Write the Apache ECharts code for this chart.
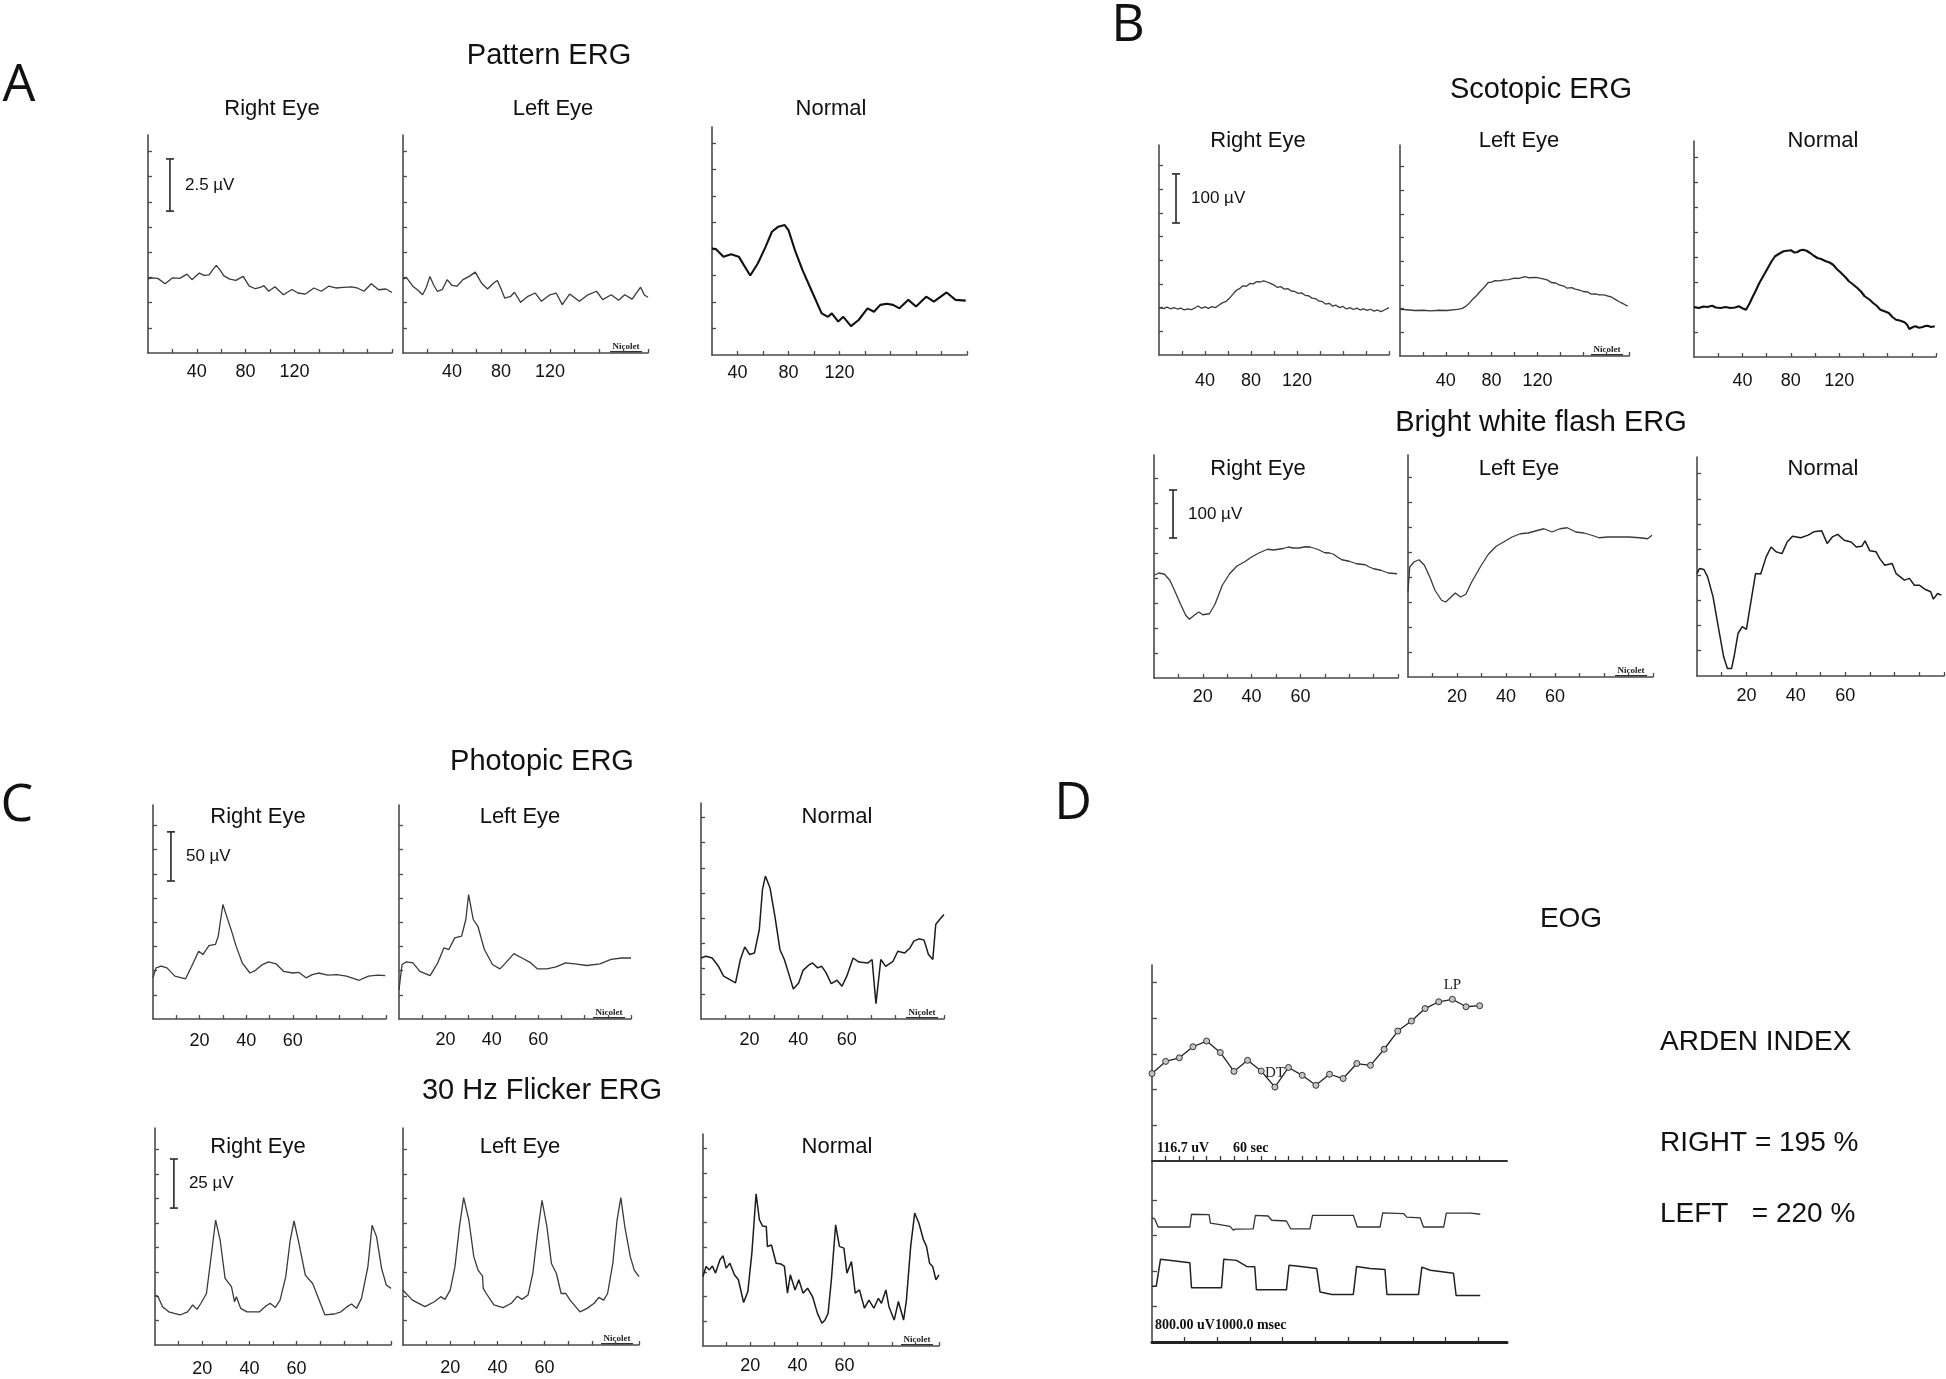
<!DOCTYPE html>
<html><head><meta charset="utf-8">
<script src="https://cdn.jsdelivr.net/npm/echarts@6/dist/echarts.min.js"></script>
<style>html,body{margin:0;padding:0;background:#fff}#chart{width:1946px;height:1379px}</style>
</head><body><div id="chart"></div>
<script>
// ---------- tick labels (ms) ----------
const patternTickLabels = [40, 80, 120];
const flashTickLabels = [20, 40, 60];
const patternTimeTicks = [20, 40, 60, 80, 100, 120, 140, 160, 180, 200];
const patternNormalTimeTicks = [40, 60, 80, 100, 120, 140, 160, 180, 200, 220];
const flashTimeTicks = [10, 20, 30, 40, 50, 60, 70, 80, 90, 100];
const amplitudeDivTicks = [1, 2, 3, 4, 5, 6, 7, 8];

// ---------- traces: [time ms, amplitude in vertical divisions] ----------
const patternRightEye = [[0,2.94],[4,2.98],[8,2.96],[14,2.75],[20,2.98],[26,2.96],[32,3.13],[36,2.91],[42,3.17],[46,3.08],[50,3.1],[53,3.3],[56,3.48],[59,3.3],[62,3.07],[67,2.93],[72,2.88],[78,3.04],[83,2.65],[88,2.55],[92,2.6],[95,2.67],[99,2.45],[104,2.63],[111,2.31],[118,2.52],[123,2.38],[129,2.34],[136,2.58],[142,2.45],[148,2.65],[154,2.58],[160,2.6],[167,2.62],[172,2.57],[177,2.45],[183,2.75],[189,2.51],[195,2.54],[200,2.4]];
const patternLeftEye = [[0,2.94],[3,2.98],[8,2.65],[12,2.5],[16,2.31],[19,2.6],[22,3.04],[25,2.7],[28,2.45],[32,2.51],[36,2.91],[40,2.68],[44,2.65],[49,2.91],[54,3.04],[59,3.21],[64,2.78],[69,2.54],[74,2.78],[77,2.88],[80,2.55],[83,2.18],[88,2.25],[91,2.41],[96,2.01],[102,2.25],[108,2.38],[113,2.05],[120,2.31],[125,2.38],[130,1.92],[136,2.34],[144,2.05],[151,2.31],[158,2.45],[163,2.12],[170,2.31],[176,2.09],[181,2.31],[187,2.14],[194,2.61],[197,2.3],[200,2.21]];
const patternNormal = [[20,4.02],[23,4.0],[29,3.71],[35,3.8],[41,3.71],[45,3.39],[50,3.0],[56,3.46],[62,4.08],[67,4.65],[72,4.84],[77,4.9],[80,4.71],[85,3.96],[91,3.2],[99,2.33],[106,1.57],[111,1.44],[114,1.57],[119,1.26],[123,1.44],[129,1.09],[135,1.32],[142,1.76],[147,1.63],[152,1.89],[157,1.93],[162,1.89],[167,1.76],[174,2.08],[180,1.83],[188,2.2],[194,2.01],[204,2.36],[211,2.08],[219,2.05]];

const scotopicRightEye = [[0,2.0],[4,1.96],[7,2.02],[10,1.95],[13,2.0],[16,1.94],[19,1.98],[22,1.9],[25,1.95],[28,1.91],[31,1.98],[34,2.07],[37,1.97],[40,2.03],[43,1.97],[46,2.04],[49,2.0],[52,2.1],[55,2.2],[58,2.25],[61,2.38],[64,2.55],[67,2.72],[70,2.8],[73,2.92],[76,2.9],[79,3.02],[82,3.0],[85,3.1],[88,3.08],[91,3.13],[94,3.08],[97,3.02],[100,2.95],[103,2.85],[106,2.88],[109,2.78],[112,2.8],[115,2.7],[118,2.68],[121,2.6],[124,2.62],[127,2.52],[130,2.5],[133,2.4],[136,2.38],[139,2.28],[142,2.25],[145,2.15],[148,2.18],[151,2.06],[154,2.1],[157,2.0],[160,2.05],[163,1.94],[166,2.0],[169,1.92],[172,1.98],[175,1.9],[178,1.95],[181,1.88],[184,1.93],[187,1.85],[190,1.9],[193,1.83],[196,1.9],[200,2.0]];
const scotopicLeftEye = [[0,1.97],[6,1.95],[13,1.92],[20,1.93],[27,1.9],[34,1.93],[41,1.92],[50,1.97],[54,2.0],[57,2.08],[60,2.2],[63,2.37],[67,2.55],[70,2.72],[74,2.92],[77,3.1],[80,3.12],[83,3.18],[87,3.17],[91,3.21],[95,3.22],[100,3.28],[104,3.27],[109,3.35],[113,3.3],[119,3.32],[122,3.28],[126,3.24],[129,3.2],[132,3.1],[136,3.08],[139,3.0],[143,2.95],[146,2.86],[150,2.88],[153,2.82],[157,2.78],[160,2.72],[164,2.7],[167,2.61],[171,2.62],[174,2.58],[178,2.58],[181,2.54],[185,2.48],[188,2.39],[191,2.3],[194,2.23],[197,2.15],[199,2.11]];
const scotopicNormal = [[0,2.0],[4,1.96],[8,2.02],[11,2.0],[15,2.05],[18,1.98],[22,1.96],[26,2.0],[30,1.96],[34,1.98],[37,2.03],[40,1.95],[43,1.89],[46,2.15],[48,2.36],[51,2.65],[54,2.96],[58,3.3],[61,3.56],[64,3.82],[67,4.03],[70,4.12],[74,4.23],[77,4.25],[80,4.27],[83,4.18],[85,4.19],[88,4.27],[90,4.29],[93,4.25],[96,4.16],[99,4.05],[102,3.96],[105,3.92],[109,3.83],[112,3.78],[115,3.69],[118,3.52],[121,3.39],[125,3.2],[128,3.03],[131,2.92],[135,2.76],[138,2.62],[141,2.43],[145,2.3],[148,2.16],[151,2.05],[154,1.89],[158,1.82],[161,1.76],[164,1.6],[167,1.49],[170,1.46],[174,1.39],[176,1.3],[178,1.12],[181,1.2],[183,1.23],[186,1.17],[189,1.2],[191,1.24],[193,1.25],[196,1.2],[199,1.23]];

const brightFlashRightEye = [[0,4.11],[2,4.2],[4.3,4.15],[6.5,3.91],[8.7,3.44],[10.8,2.97],[13,2.51],[14.5,2.35],[16,2.47],[17,2.55],[18.4,2.64],[20,2.53],[22.7,2.57],[25,2.95],[28,3.71],[31,4.17],[34,4.48],[37,4.64],[40,4.84],[43,5.0],[46.5,5.15],[49,5.12],[51,5.15],[53,5.18],[55,5.24],[57,5.2],[59.5,5.2],[62,5.25],[64,5.24],[67,5.15],[70,5.01],[72,5.0],[73.6,4.95],[75,4.85],[77,4.73],[80,4.67],[83,4.57],[86.6,4.53],[88,4.45],[90,4.37],[93,4.31],[96,4.2],[99.6,4.17]];
const brightFlashLeftEye = [[0,3.4],[0.7,4.4],[2.4,4.6],[4.5,4.69],[6.7,4.47],[8.9,4.0],[11,3.47],[13.7,3.07],[15.4,3.0],[17.6,3.2],[19.3,3.36],[21.5,3.2],[23.6,3.31],[26,3.8],[29.5,4.4],[32.8,4.91],[36,5.23],[39,5.4],[42.5,5.6],[45.8,5.73],[49,5.76],[52,5.84],[55.5,5.93],[58.8,5.8],[62,5.93],[65,5.97],[68.5,5.8],[71.8,5.76],[75,5.67],[78,5.57],[81.6,5.6],[86,5.6],[90,5.6],[94.6,5.57],[97.8,5.53],[99.6,5.67]];
const brightFlashNormal = [[0,4.05],[1,4.25],[2.8,4.21],[4.3,3.92],[6.5,3.13],[8.6,1.95],[10.8,0.76],[12.3,0.3],[14,0.3],[15,0.76],[16.6,1.68],[18.3,1.95],[20,1.84],[21.5,2.74],[23.7,4.05],[25.8,4.03],[28,4.71],[30,5.1],[32,4.91],[34.4,4.84],[36.5,5.3],[38.7,5.53],[42,5.47],[45,5.57],[47.3,5.7],[50.5,5.74],[52.7,5.24],[54.8,5.5],[57,5.6],[59.6,5.37],[62.4,5.3],[64.5,5.1],[66.7,5.13],[68,5.34],[70,4.95],[72.5,4.91],[74,4.64],[76,4.38],[79,4.45],[80.6,4.05],[84,3.79],[86,3.86],[88,3.59],[90,3.59],[92.5,3.42],[94.6,3.33],[95.7,3.04],[97.4,3.26],[99,3.2]];

const photopicRightEye = [[0,1.7],[1.3,2.11],[3.5,2.18],[6,2.11],[9.4,1.77],[14,1.66],[16.6,2.18],[19.6,2.8],[21.4,2.66],[24,3.03],[26.8,3.08],[28,3.42],[30,4.73],[31.6,4.25],[33.5,3.7],[35.7,3.0],[38.3,2.32],[41.6,1.9],[44,2.01],[47,2.25],[49.6,2.36],[52.8,2.28],[56,1.97],[60,1.9],[62.5,1.93],[65.7,1.7],[68.4,1.83],[71,1.9],[75,1.81],[79,1.83],[83,1.77],[88.5,1.6],[92.5,1.77],[96.5,1.81],[99.7,1.79]];
const photopicLeftEye = [[0,1.21],[1.3,2.25],[3.2,2.36],[6,2.32],[9,1.97],[13.4,1.79],[16.7,2.32],[19.4,2.94],[21.5,2.87],[24,3.35],[27,3.42],[28.8,4.11],[30,5.14],[32,4.11],[34,3.83],[36.8,2.87],[40.3,2.25],[43.5,2.07],[46,2.32],[49.5,2.7],[53,2.52],[56.5,2.34],[59.7,2.07],[63.7,2.07],[67.7,2.15],[71.8,2.32],[75.8,2.28],[81,2.21],[86.6,2.28],[91.4,2.46],[96,2.52],[100,2.52]];
const photopicNormal = [[0,2.42],[2,2.49],[4.6,2.42],[7.2,2.09],[9.3,1.7],[11.9,1.56],[14.2,1.43],[16.2,2.36],[18,2.86],[20,2.56],[22,2.62],[24,3.55],[25.3,5.14],[26.5,5.67],[28.4,5.2],[30.4,4.08],[32.5,2.75],[34.3,2.36],[36,1.83],[38,1.19],[40.2,1.43],[42,1.93],[44.6,2.16],[45.9,2.22],[48,2.03],[49.7,2.09],[51.5,1.83],[53.6,1.4],[56,1.54],[58,1.3],[60,1.7],[62.6,2.42],[65,2.26],[68.6,2.22],[70.4,2.36],[72,0.61],[74,2.36],[76,2.09],[79,2.29],[81,2.69],[83.8,2.62],[86,2.82],[87.6,3.09],[89.7,3.18],[91.8,3.13],[93.6,2.56],[95.4,2.36],[96.6,3.75],[98.2,3.95],[100,4.15]];

const flickerRightEye = [[0,2.05],[1.3,1.98],[3.2,1.57],[5.8,1.36],[10.6,1.23],[13.8,1.36],[16,1.64],[17.8,1.46],[19.6,1.73],[21.8,2.11],[23.6,3.48],[25.7,5.12],[27.6,4.3],[29.7,2.73],[32.4,2.39],[33.7,1.77],[34.5,1.98],[36.3,1.5],[39,1.36],[44.3,1.36],[47,1.6],[48.8,1.71],[51,1.54],[53,1.84],[55.4,2.8],[57.3,4.3],[58.9,5.08],[61,4.16],[63.7,2.86],[66.8,2.52],[69,1.98],[72,1.23],[76,1.27],[78.8,1.36],[81.4,1.57],[83.3,1.68],[85.4,1.5],[87.5,1.91],[90.2,3.2],[92,4.91],[93.9,4.43],[96,3.14],[98,2.46],[100,2.32]];
const flickerLeftEye = [[0,2.25],[1.3,2.11],[4,1.84],[9.3,1.57],[13.3,1.77],[16,1.98],[17.8,1.87],[20,2.25],[22,3.2],[23.9,4.84],[25.7,6.04],[27.9,5.12],[30,3.62],[31.8,3.07],[33.7,2.82],[34,2.32],[35.3,2.11],[38.5,1.64],[42.4,1.53],[45.9,1.71],[48.5,2.0],[50.4,1.87],[53,2.05],[55,2.93],[57,4.57],[58.9,5.93],[61,4.84],[62.9,3.34],[65,2.93],[67,2.11],[69,2.11],[70.8,1.84],[75,1.36],[78,1.5],[81,1.71],[83,1.95],[85,1.84],[86.7,2.11],[88.9,3.34],[90.7,5.12],[92.3,6.04],[94,4.84],[96.3,3.62],[98,3.07],[100,2.8]];
const flickerNormal = [[0,2.81],[1.3,3.22],[2.7,3.08],[4,3.24],[5.3,2.95],[7.2,3.49],[8.5,3.65],[9.8,3.15],[11.4,3.35],[13.3,2.88],[15,2.68],[17.2,1.76],[19,2.2],[20.7,3.76],[22.5,6.16],[23.9,5.11],[25.2,4.86],[26.8,4.84],[27.3,4.03],[29,4.09],[31,3.35],[33,3.32],[34.5,3.22],[35.8,2.14],[37,2.88],[39,2.27],[40.6,2.68],[42.4,2.14],[44.3,2.34],[46.4,2.0],[48.5,1.32],[50.4,0.92],[51.7,1.05],[53,1.32],[54.4,2.68],[56.2,4.9],[57.8,4.03],[59.7,3.96],[61,2.95],[62.9,3.42],[64.5,2.14],[66.3,2.27],[68.4,1.53],[70.3,1.86],[72.4,1.53],[74.3,1.93],[75.6,1.73],[77.5,2.27],[78.8,1.59],[81,1.05],[82.8,1.8],[85,1.05],[86.2,1.86],[88,4.03],[89.7,5.38],[91.5,4.97],[93.4,4.3],[94.7,4.03],[96,3.35],[97.3,3.22],[98.7,2.68],[100,2.88]];

// ---------- calibration bars: [time ms, from div, to div] ----------
const patternScaleBar = [18, 5.63, 7.7];
const scotopicScaleBar = [14.8, 5.57, 7.64];
const brightFlashScaleBar = [7.8, 5.6, 7.52];
const photopicScaleBar = [7.7, 5.7, 7.73];
const flickerScaleBar = [8, 5.61, 7.62];
const scaleBarTexts = ['2.5 µV', '100 µV', '100 µV', '50 µV', '25 µV'];

// ---------- EOG ----------
const eogMinutes = [0,1,2,3,4,5,6,7,8,9,10,11,12,13,14,15,16,17,18,19,20,21,22,23,24];
const eogAmplitude = [2.45,2.79,2.89,3.2,3.36,3.04,2.51,2.82,2.52,2.07,2.62,2.4,2.12,2.43,2.31,2.73,2.68,3.13,3.64,3.92,4.27,4.46,4.53,4.32,4.35];
const eogMarkerMinutes = [9, 22];
const eogMarkerLabels = ['DT', 'LP'];
const eogSmallSweep = [[0,3.5],[0.08,3.47],[0.19,3.24],[1.16,3.24],[1.21,3.6],[1.75,3.59],[1.79,3.35],[2.08,3.31],[2.39,3.26],[2.49,3.15],[2.56,3.18],[3.1,3.19],[3.17,3.57],[3.56,3.55],[3.67,3.43],[4.12,3.41],[4.25,3.19],[4.84,3.19],[4.92,3.57],[6.17,3.57],[6.29,3.24],[6.99,3.24],[7.07,3.64],[7.71,3.62],[7.81,3.52],[8.22,3.5],[8.32,3.24],[8.94,3.24],[9.02,3.63],[9.76,3.63],[10.06,3.6]];
const eogLargeSweep = [[0,1.57],[0.13,1.57],[0.26,2.33],[1.16,2.23],[1.21,1.53],[2.13,1.53],[2.2,2.33],[2.59,2.3],[2.9,2.13],[3.15,2.12],[3.2,1.47],[4.12,1.47],[4.2,2.16],[4.43,2.14],[5.05,2.07],[5.15,1.41],[5.51,1.34],[6.17,1.34],[6.27,2.13],[6.68,2.07],[7.14,2.04],[7.2,1.34],[8.17,1.34],[8.27,2.11],[8.53,2.02],[9.24,1.94],[9.32,1.31],[10.06,1.31]];
const eogMinuteTicks = [1,2,3,4,5,6,7,8,9,10,11,12,13,14,15,16,17,18,19,20,21,22,23,24];
const eogSweepTicks = [1,2,3,4,5,6,7,8,9,10];

// ---------- layout ----------
const SANS = "'Liberation Sans', Arial, sans-serif";
const SERIF = "'Liberation Serif', 'Times New Roman', serif";
const AXIS = '#4a4a4a';
const thin = {color: '#3a3a3a', width: 1.3};
const bold = {color: '#111', width: 2.1};
const mid = {color: '#1c1c1c', width: 1.5};

const panels = [
  {box:[148,135,392,353], x:[0,200], xt:patternTimeTicks, xl:patternTickLabels, yMax:8.65, data:patternRightEye, ls:thin, m:10},
  {box:[403,135,648,353], x:[0,200], xt:patternTimeTicks, xl:patternTickLabels, yMax:8.65, data:patternLeftEye, ls:thin, m:10, logo:true},
  {box:[712,127,967,355], x:[20,220], xt:patternNormalTimeTicks, xl:patternTickLabels, yMax:8.6, data:patternNormal, ls:bold, m:9},
  {box:[1159,145,1389,355], x:[0,200], xt:patternTimeTicks, xl:patternTickLabels, yMax:8.86, data:scotopicRightEye, ls:thin, m:17},
  {box:[1400,145,1629,356], x:[0,200], xt:patternTimeTicks, xl:patternTickLabels, yMax:8.9, data:scotopicLeftEye, ls:thin, m:16, logo:true},
  {box:[1694,141,1936,357], x:[0,200], xt:patternTimeTicks, xl:patternTickLabels, yMax:8.64, data:scotopicNormal, ls:bold, m:15},
  {box:[1154,455,1398,678], x:[0,100], xt:flashTimeTicks, xl:flashTickLabels, yMax:8.92, data:brightFlashRightEye, ls:thin, m:10},
  {box:[1408,455,1653,677], x:[0,100], xt:flashTimeTicks, xl:flashTickLabels, yMax:8.88, data:brightFlashLeftEye, ls:thin, m:11, logo:true},
  {box:[1697,457,1944,676], x:[0,100], xt:flashTimeTicks, xl:flashTickLabels, yMax:8.66, data:brightFlashNormal, ls:mid, m:11},
  {box:[153,805,386,1019], x:[0,100], xt:flashTimeTicks, xl:flashTickLabels, yMax:8.84, data:photopicRightEye, ls:thin, m:13},
  {box:[399,805,631,1019], x:[0,100], xt:flashTimeTicks, xl:flashTickLabels, yMax:8.84, data:photopicLeftEye, ls:thin, m:12, logo:true},
  {box:[701,803,944,1019], x:[0,100], xt:flashTimeTicks, xl:flashTickLabels, yMax:8.57, data:photopicNormal, ls:mid, m:12, logo:true},
  {box:[155,1128,391,1345], x:[0,100], xt:flashTimeTicks, xl:flashTickLabels, yMax:8.89, data:flickerRightEye, ls:thin, m:15},
  {box:[403,1128,639,1345], x:[0,100], xt:flashTimeTicks, xl:flashTickLabels, yMax:8.89, data:flickerLeftEye, ls:thin, m:14, logo:true},
  {box:[703,1134,939,1346], x:[0,100], xt:flashTimeTicks, xl:flashTickLabels, yMax:8.58, data:flickerNormal, ls:mid, m:11, logo:true}
];
const scaleBars = [[0, patternScaleBar], [3, scotopicScaleBar], [6, brightFlashScaleBar], [9, photopicScaleBar], [12, flickerScaleBar]];

const grids = [], xAxes = [], yAxes = [], series = [], graphics = [];

function axisBase(){
  return {axisLine:{show:true, onZero:false, lineStyle:{color:AXIS, width:1.6}},
          splitLine:{show:false}};
}
panels.forEach((p, i) => {
  const [l, t, r, b] = p.box;
  grids.push({left:l, top:t, width:r - l, height:b - t, containLabel:false, outerBoundsMode:'none'});
  xAxes.push(Object.assign(axisBase(), {gridIndex:i, type:'value', min:p.x[0], max:p.x[1],
    axisTick:{show:true, inside:true, length:4, customValues:p.xt, lineStyle:{color:AXIS, width:1.3}},
    axisLabel:{show:true, customValues:p.xl, margin:p.m, fontSize:18, fontFamily:SANS, color:'#111'}}));
  yAxes.push(Object.assign(axisBase(), {gridIndex:i, type:'value', min:0, max:p.yMax,
    axisTick:{show:true, inside:true, length:4, customValues:amplitudeDivTicks, lineStyle:{color:AXIS, width:1.3}},
    axisLabel:{show:false}}));
  series.push({type:'line', xAxisIndex:i, yAxisIndex:i, data:p.data, showSymbol:false, symbol:'none',
    lineStyle:{color:p.ls.color, width:p.ls.width}, silent:true, animation:false});
  if (p.logo) {
    graphics.push({type:'text', x:r - 22, y:b - 6, style:{text:'Nicolet', font:"bold 9px " + SERIF, fill:'#222',
      align:'center', verticalAlign:'middle', textAlign:'center', textVerticalAlign:'middle'}});
    graphics.push({type:'rect', shape:{x:r - 38, y:b - 2, width:32, height:1.5}, style:{fill:'#333'}});
  }
});

// calibration bars drawn in data space
scaleBars.forEach(([pi, bar], k) => {
  const text = scaleBarTexts[k];
  series.push({type:'custom', xAxisIndex:pi, yAxisIndex:pi, data:[bar], silent:true, animation:false,
    renderItem: function(params, api){
      const p0 = api.coord([api.value(0), api.value(1)]);
      const p1 = api.coord([api.value(0), api.value(2)]);
      const c = 4, st = {stroke:'#333', lineWidth:1.7};
      return {type:'group', children:[
        {type:'line', shape:{x1:p0[0], y1:p0[1], x2:p1[0], y2:p1[1]}, style:st},
        {type:'line', shape:{x1:p0[0]-c, y1:p0[1], x2:p0[0]+c, y2:p0[1]}, style:st},
        {type:'line', shape:{x1:p1[0]-c, y1:p1[1], x2:p1[0]+c, y2:p1[1]}, style:st},
        {type:'text', x:p0[0] + 15, y:(p0[1] + p1[1]) / 2,
          style:{text:text, font:'17px ' + SANS, fill:'#111', align:'left', verticalAlign:'middle', textAlign:'left', textVerticalAlign:'middle'}}
      ]};
    }});
});

// EOG grids
const eU = grids.length;
grids.push({left:1152, top:965, width:355, height:196, containLabel:false, outerBoundsMode:'none'});
xAxes.push(Object.assign(axisBase(), {gridIndex:eU, type:'value', min:0, max:26,
  axisLine:{show:true, onZero:false, lineStyle:{color:'#333', width:2}},
  axisTick:{show:true, inside:true, length:5, customValues:eogMinuteTicks, lineStyle:{color:'#333', width:1.3}},
  axisLabel:{show:false}}));
yAxes.push(Object.assign(axisBase(), {gridIndex:eU, type:'value', min:0, max:5.49,
  axisTick:{show:true, inside:true, length:5, customValues:[1,2,3,4,5], lineStyle:{color:AXIS, width:1.3}},
  axisLabel:{show:false}}));
series.push({type:'line', xAxisIndex:eU, yAxisIndex:eU, silent:true, animation:false,
  data: eogMinutes.map((m, i) => {
    const k = eogMarkerMinutes.indexOf(m);
    const item = {value:[m, eogAmplitude[i]]};
    if (k >= 0) item.label = {show:true, formatter:eogMarkerLabels[k], position:'top', distance:3,
      fontFamily:SERIF, fontSize:15, color:'#222'};
    return item;
  }),
  symbol:'circle', symbolSize:6, showSymbol:true,
  itemStyle:{color:'#c4c4c4', borderColor:'#333', borderWidth:1},
  lineStyle:{color:'#222', width:1.3}});

const eL = grids.length;
grids.push({left:1152, top:1161, width:355, height:181, containLabel:false, outerBoundsMode:'none'});
xAxes.push(Object.assign(axisBase(), {gridIndex:eL, type:'value', min:0, max:10.88,
  axisLine:{show:true, onZero:false, lineStyle:{color:'#222', width:3}},
  axisTick:{show:true, inside:true, length:5, customValues:eogSweepTicks, lineStyle:{color:'#333', width:1.3}},
  axisLabel:{show:false}}));
yAxes.push(Object.assign(axisBase(), {gridIndex:eL, type:'value', min:0, max:5.1,
  axisTick:{show:true, inside:true, length:5, customValues:[1,2,3,4], lineStyle:{color:AXIS, width:1.3}},
  axisLabel:{show:false}}));
series.push({type:'line', xAxisIndex:eL, yAxisIndex:eL, data:eogSmallSweep, showSymbol:false, symbol:'none',
  lineStyle:{color:'#333', width:1.3}, silent:true, animation:false});
series.push({type:'line', xAxisIndex:eL, yAxisIndex:eL, data:eogLargeSweep, showSymbol:false, symbol:'none',
  lineStyle:{color:'#222', width:1.5}, silent:true, animation:false});

// ---------- texts ----------
function txt(text, x, y, font, align){
  graphics.push({type:'text', x:x, y:y, silent:true, style:{text:text, font:font, fill:'#111',
    align:align || 'center', verticalAlign:'middle', textAlign:align || 'center', textVerticalAlign:'middle'}});
}
const LETTER = "52px 'Open Sans', 'Liberation Sans', sans-serif";
txt('A', 19, 86, LETTER); txt('B', 1128, 26, LETTER); txt('C', 17, 806, LETTER); txt('D', 1073, 804, LETTER);
const TITLE = '29px ' + SANS, SUB = '22px ' + SANS;
txt('Pattern ERG', 549, 56, TITLE);
txt('Right Eye', 272, 109, SUB); txt('Left Eye', 553, 109, SUB); txt('Normal', 831, 109, SUB);
txt('Scotopic ERG', 1541, 90, TITLE);
txt('Right Eye', 1258, 141, SUB); txt('Left Eye', 1519, 141, SUB); txt('Normal', 1823, 141, SUB);
txt('Bright white flash ERG', 1541, 423, TITLE);
txt('Right Eye', 1258, 469, SUB); txt('Left Eye', 1519, 469, SUB); txt('Normal', 1823, 469, SUB);
txt('Photopic ERG', 542, 762, TITLE);
txt('Right Eye', 258, 817, SUB); txt('Left Eye', 520, 817, SUB); txt('Normal', 837, 817, SUB);
txt('30 Hz Flicker ERG', 542, 1091, TITLE);
txt('Right Eye', 258, 1147, SUB); txt('Left Eye', 520, 1147, SUB); txt('Normal', 837, 1147, SUB);
txt('EOG', 1571, 919, '28px ' + SANS);
txt('ARDEN INDEX', 1660, 1042, '28px ' + SANS, 'left');
txt('RIGHT = 195 %', 1660, 1143, '28px ' + SANS, 'left');
txt('LEFT   = 220 %', 1660, 1214, '28px ' + SANS, 'left');
txt('116.7 uV', 1157, 1148, 'bold 14px ' + SERIF, 'left');
txt('60 sec', 1233, 1148, 'bold 14px ' + SERIF, 'left');
txt('800.00 uV1000.0 msec', 1155, 1325, 'bold 14px ' + SERIF, 'left');

const chart = echarts.init(document.getElementById('chart'), null, {renderer:'canvas', width:1946, height:1379});
chart.setOption({
  backgroundColor:'#ffffff',
  animation:false,
  grid:grids, xAxis:xAxes, yAxis:yAxes, series:series,
  graphic:{elements:graphics}
});
</script>
</body></html>
